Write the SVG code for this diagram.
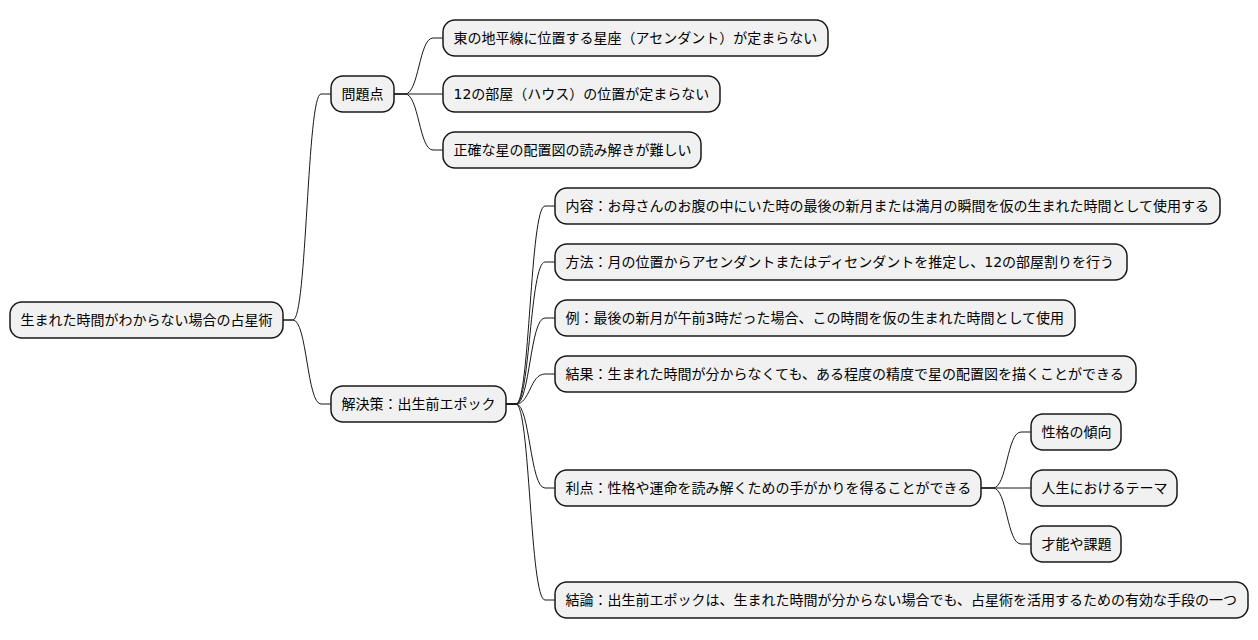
<svg xmlns="http://www.w3.org/2000/svg" width="1258" height="640" viewBox="0 0 1258 640">
<style>
.n rect{fill:#F1F1F1;stroke:#181818;stroke-width:1.5}
.n text{font-family:"DejaVu Sans","Noto Sans CJK JP",sans-serif;font-size:14px;fill:#000}
#edges path{fill:none;stroke:#181818;stroke-width:1}
</style>
<rect width="1258" height="640" fill="#FFFFFF"/>
<g id="edges">
<path d="M283,320 L293,320 C307,320 307,94 321,94 L331,94"/>
<path d="M283,320 L293,320 C307,320 307,404 321,404 L331,404"/>
<path d="M394,94 L405,94 C419,94 419,38 433,38 L443,38"/>
<path d="M394,94 L443,94"/>
<path d="M394,94 L405,94 C419,94 419,150 433,150 L443,150"/>
<path d="M506,404 L516,404 C530,404 530,206 545,206 L555,206"/>
<path d="M506,404 L516,404 C530,404 530,262 545,262 L555,262"/>
<path d="M506,404 L516,404 C530,404 530,318 545,318 L555,318"/>
<path d="M506,404 L516,404 C530,404 530,374 545,374 L555,374"/>
<path d="M506,404 L516,404 C530,404 530,488 545,488 L555,488"/>
<path d="M506,404 L516,404 C530,404 530,600 545,600 L555,600"/>
<path d="M981,488 L993,488 C1007,488 1007,432 1021,432 L1031,432"/>
<path d="M981,488 L1031,488"/>
<path d="M981,488 L993,488 C1007,488 1007,544 1021,544 L1031,544"/>
</g>
<g id="root" class="n"><rect x="10" y="302" width="273" height="36" rx="12"/><text x="20.5" y="325">生まれた時間がわからない場合の占星術</text></g>
<g id="mondai" class="n"><rect x="331" y="76" width="63" height="36" rx="12"/><text x="341.5" y="99">問題点</text></g>
<g id="p1" class="n"><rect x="443" y="20" width="385" height="36" rx="12"/><text x="453.5" y="43">東の地平線に位置する星座（アセンダント）が定まらない</text></g>
<g id="p2" class="n"><rect x="443" y="76" width="277" height="36" rx="12"/><text x="453.5" y="99">12の部屋（ハウス）の位置が定まらない</text></g>
<g id="p3" class="n"><rect x="443" y="132" width="258" height="36" rx="12"/><text x="453.5" y="155">正確な星の配置図の読み解きが難しい</text></g>
<g id="kaiketsu" class="n"><rect x="331" y="386" width="175" height="36" rx="12"/><text x="341.5" y="409">解決策：出生前エポック</text></g>
<g id="s1" class="n"><rect x="555" y="188" width="665" height="36" rx="12"/><text x="565.5" y="211">内容：お母さんのお腹の中にいた時の最後の新月または満月の瞬間を仮の生まれた時間として使用する</text></g>
<g id="s2" class="n"><rect x="555" y="244" width="572" height="36" rx="12"/><text x="565.5" y="267">方法：月の位置からアセンダントまたはディセンダントを推定し、12の部屋割りを行う</text></g>
<g id="s3" class="n"><rect x="555" y="300" width="520" height="36" rx="12"/><text x="565.5" y="323">例：最後の新月が午前3時だった場合、この時間を仮の生まれた時間として使用</text></g>
<g id="s4" class="n"><rect x="555" y="356" width="581" height="36" rx="12"/><text x="565.5" y="379">結果：生まれた時間が分からなくても、ある程度の精度で星の配置図を描くことができる</text></g>
<g id="s5" class="n"><rect x="555" y="470" width="426" height="36" rx="12"/><text x="565.5" y="493">利点：性格や運命を読み解くための手がかりを得ることができる</text></g>
<g id="s6" class="n"><rect x="555" y="582" width="693" height="36" rx="12"/><text x="565.5" y="605">結論：出生前エポックは、生まれた時間が分からない場合でも、占星術を活用するための有効な手段の一つ</text></g>
<g id="b1" class="n"><rect x="1031" y="414" width="90" height="36" rx="12"/><text x="1041.5" y="437">性格の傾向</text></g>
<g id="b2" class="n"><rect x="1031" y="470" width="146" height="36" rx="12"/><text x="1041.5" y="493">人生におけるテーマ</text></g>
<g id="b3" class="n"><rect x="1031" y="526" width="90" height="36" rx="12"/><text x="1041.5" y="549">才能や課題</text></g>
</svg>
